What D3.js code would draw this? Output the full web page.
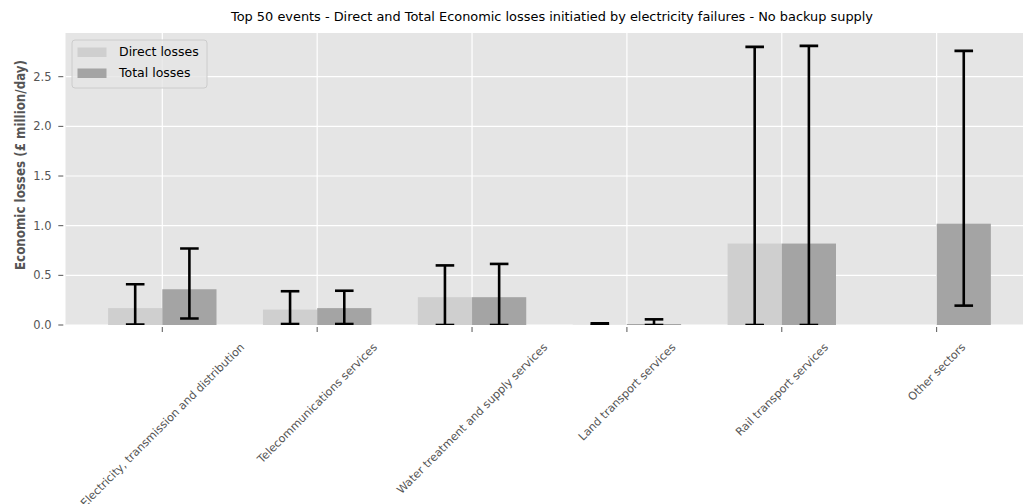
<!DOCTYPE html>
<html>
<head>
<meta charset="utf-8">
<script src="https://cdn.jsdelivr.net/npm/d3@7"></script>
<style>
  html, body { margin: 0; padding: 0; background: #fff; }
  svg { display: block; }
  text { font-family: "DejaVu Sans", Verdana, sans-serif; }
</style>
</head>
<body>
<script>
// Sectors along the x axis
const categories = [
  "Electricity, transmission and distribution",
  "Telecommunications services",
  "Water treatment and supply services",
  "Land transport services",
  "Rail transport services",
  "Other sectors"
];

// Direct losses (£ million/day) with lower / upper error limits
const directValues = [0.17, 0.155, 0.28, 0.003, 0.82, 0];
const directLow    = [0.005, 0.01, 0.0, 0.0, 0.0, null];
const directHigh   = [0.41, 0.34, 0.60, 0.017, 2.80, null];

// Total losses (£ million/day) with lower / upper error limits
const totalValues = [0.36, 0.17, 0.28, 0.01, 0.82, 1.02];
const totalLow    = [0.065, 0.01, 0.0, 0.0, 0.0, 0.195];
const totalHigh   = [0.77, 0.345, 0.615, 0.057, 2.81, 2.76];

const yTicks = [0, 0.5, 1.0, 1.5, 2.0, 2.5];
const seriesNames = ["Direct losses", "Total losses"];
const seriesColors = ["#cfcfcf", "#a4a4a4"];

const W = 1023, H = 504;
const plot = { left: 65.5, right: 1035, top: 33, bottom: 325 };
const barWidth = 0.35;

const svg = d3.select("body").append("svg").attr("width", W).attr("height", H);

const x = d3.scaleLinear().domain([-0.625, 5.635]).range([plot.left, plot.right]);
const y = d3.scaleLinear().domain([0, 2.94]).range([plot.bottom, plot.top]);

svg.append("defs").append("clipPath").attr("id", "plotClip")
  .append("rect").attr("x", plot.left).attr("y", plot.top)
  .attr("width", plot.right - plot.left).attr("height", plot.bottom - plot.top);

// Panel background
svg.append("rect")
  .attr("x", plot.left).attr("y", plot.top)
  .attr("width", plot.right - plot.left).attr("height", plot.bottom - plot.top)
  .attr("fill", "#e5e5e5");

// Grid lines
const grid = svg.append("g").attr("clip-path", "url(#plotClip)");
grid.selectAll("line.gy").data(yTicks).join("line")
  .attr("x1", plot.left).attr("x2", plot.right)
  .attr("y1", d => y(d)).attr("y2", d => y(d))
  .attr("stroke", "#fff").attr("stroke-width", 1.2);
grid.selectAll("line.gx").data(d3.range(categories.length)).join("line")
  .attr("x1", d => x(d)).attr("x2", d => x(d))
  .attr("y1", plot.top).attr("y2", plot.bottom)
  .attr("stroke", "#fff").attr("stroke-width", 1.2);

// Bars and error bars
const series = [
  { values: directValues, low: directLow, high: directHigh, offset: -barWidth, color: seriesColors[0] },
  { values: totalValues,  low: totalLow,  high: totalHigh,  offset: 0,         color: seriesColors[1] }
];

const marks = svg.append("g").attr("clip-path", "url(#plotClip)");
series.forEach(s => {
  marks.append("g").selectAll("rect").data(s.values).join("rect")
    .attr("x", (d, i) => x(i + s.offset))
    .attr("width", (d, i) => x(i + s.offset + barWidth) - x(i + s.offset))
    .attr("y", d => y(d))
    .attr("height", d => y(0) - y(d))
    .attr("fill", s.color);
});

const capHalf = 9.3;
series.forEach(s => {
  const eb = marks.append("g").attr("stroke", "#000").attr("stroke-width", 2.6);
  s.values.forEach((v, i) => {
    if (s.low[i] === null) return;
    const cx = x(i + s.offset + barWidth / 2);
    eb.append("line").attr("x1", cx).attr("x2", cx)
      .attr("y1", y(s.low[i])).attr("y2", y(s.high[i]));
    [s.low[i], s.high[i]].forEach(e => {
      eb.append("line").attr("x1", cx - capHalf).attr("x2", cx + capHalf)
        .attr("y1", y(e)).attr("y2", y(e));
    });
  });
});

// Y axis ticks and labels
const yAxis = svg.append("g");
yAxis.selectAll("line").data(yTicks).join("line")
  .attr("x1", 58.3).attr("x2", 63.3)
  .attr("y1", d => y(d)).attr("y2", d => y(d))
  .attr("stroke", "#555").attr("stroke-width", 1);
yAxis.selectAll("text").data(yTicks).join("text")
  .attr("x", 51.5).attr("y", d => y(d)).attr("dy", "0.35em")
  .attr("text-anchor", "end").attr("font-size", 11.5).attr("fill", "#555")
  .text(d => d3.format(".1f")(d));

svg.append("text")
  .attr("transform", `translate(25,165) rotate(-90)`)
  .attr("text-anchor", "middle").attr("font-size", 14).attr("font-weight", "bold")
  .attr("fill", "#555")
  .attr("textLength", 210).attr("lengthAdjust", "spacingAndGlyphs")
  .text("Economic losses (£ million/day)");

// X axis ticks and rotated labels
const xAxis = svg.append("g");
xAxis.selectAll("line").data(categories).join("line")
  .attr("x1", (d, i) => x(i)).attr("x2", (d, i) => x(i))
  .attr("y1", 327).attr("y2", 332)
  .attr("stroke", "#555").attr("stroke-width", 1);
const labelTop = 341;
const labelSize = 11.2;
xAxis.selectAll("text").data(categories).join("text")
  .attr("text-anchor", "middle").attr("dy", "0.35em")
  .attr("font-size", labelSize).attr("fill", "#555")
  .text(d => d)
  .each(function(d, i) {
    const w = this.getComputedTextLength();
    const h = labelSize * 1.05;
    const half = (w + h) * Math.SQRT1_2 / 2;
    d3.select(this).attr("transform", `translate(${x(i)},${labelTop + half}) rotate(-45)`);
  });

// Title
svg.append("text")
  .attr("x", 552).attr("y", 21)
  .attr("text-anchor", "middle").attr("font-size", 12.5).attr("fill", "#000")
  .attr("textLength", 642).attr("lengthAdjust", "spacingAndGlyphs")
  .text("Top 50 events - Direct and Total Economic losses initiatied by electricity failures - No backup supply");

// Legend
const lg = svg.append("g");
lg.append("rect").attr("x", 72).attr("y", 40).attr("width", 135).attr("height", 48)
  .attr("rx", 3).attr("fill", "#e5e5e5").attr("fill-opacity", 0.8)
  .attr("stroke", "#cccccc").attr("stroke-width", 1);
seriesNames.forEach((name, k) => {
  const cy = 52 + k * 21;
  lg.append("rect").attr("x", 77.5).attr("y", cy - 4.5).attr("width", 29).attr("height", 9.5)
    .attr("fill", seriesColors[k]);
  lg.append("text").attr("x", 119).attr("y", cy).attr("dy", "0.35em")
    .attr("font-size", 12.5).attr("fill", "#000").text(name);
});
</script>
</body>
</html>
